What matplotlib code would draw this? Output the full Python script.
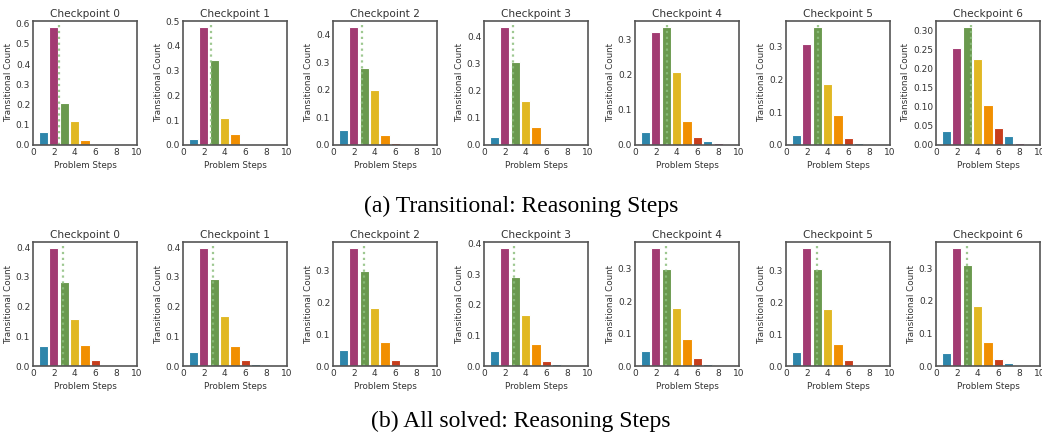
import matplotlib

matplotlib.use("Agg")
import matplotlib.pyplot as plt
import numpy as np
from matplotlib.ticker import MaxNLocator

# Cores das barras (ciclam a cada 6 passos)
CORES = ["#2E86AB", "#A23B72", "#6A994E", "#E1B823", "#F18F01", "#C73E1D"]
COR_MEDIA = "#8DBF7E"
COR_TEXTO = "#333333"
COR_BORDA = "#555555"

passos = [1, 2, 3, 4, 5, 6, 7, 8]
checkpoints = ["Checkpoint 0", "Checkpoint 1", "Checkpoint 2", "Checkpoint 3",
               "Checkpoint 4", "Checkpoint 5", "Checkpoint 6"]

# (a) Transitional
transicional = [
    [0.065, 0.584, 0.207, 0.118, 0.027, 0.0, 0.0, 0.0],
    [0.023, 0.477, 0.345, 0.111, 0.046, 0.0, 0.0, 0.0],
    [0.053, 0.428, 0.280, 0.201, 0.035, 0.009, 0.0, 0.0],
    [0.028, 0.437, 0.306, 0.162, 0.067, 0.0, 0.0, 0.005],
    [0.037, 0.320, 0.335, 0.206, 0.067, 0.022, 0.010, 0.006],
    [0.030, 0.309, 0.360, 0.186, 0.091, 0.022, 0.005, 0.0],
    [0.036, 0.254, 0.310, 0.225, 0.106, 0.045, 0.023, 0.004],
]

# (b) All solved
resolvidos = [
    [0.067, 0.397, 0.282, 0.158, 0.071, 0.020, 0.005, 0.002],
    [0.048, 0.397, 0.294, 0.169, 0.068, 0.020, 0.008, 0.003],
    [0.051, 0.372, 0.298, 0.183, 0.075, 0.018, 0.004, 0.003],
    [0.049, 0.387, 0.291, 0.168, 0.073, 0.018, 0.008, 0.001],
    [0.045, 0.364, 0.299, 0.179, 0.082, 0.026, 0.007, 0.003],
    [0.043, 0.372, 0.307, 0.178, 0.068, 0.020, 0.004, 0.001],
    [0.041, 0.363, 0.311, 0.183, 0.073, 0.022, 0.008, 0.003],
]

legendas = ["(a) Transitional: Reasoning Steps", "(b) All solved: Reasoning Steps"]

W, H = 1042, 436
ESQ = [33, 183, 333, 484, 635, 786, 936]
LARG = 104
TOPO = [21, 242]
ALT = 124
Y_LEGENDA = [206, 421]


def painel(ax, valores, titulo):
    cores = [CORES[i % len(CORES)] for i in range(len(passos))]
    ax.bar(passos, valores, 0.9, color=cores, edgecolor="white", linewidth=0.8)
    v = np.array(valores)
    media = float(np.sum(np.array(passos) * v) / np.sum(v))
    ax.axvline(media, color=COR_MEDIA, linestyle=":", linewidth=1.6, alpha=0.85)
    ax.set_xlim(0, 10)
    ax.set_ylim(0, max(valores) * 1.05)
    ax.set_xticks([0, 2, 4, 6, 8, 10])
    ax.yaxis.set_major_locator(MaxNLocator(nbins=7, steps=[1, 2, 5, 10]))
    ax.tick_params(length=0, labelsize=6.5, colors=COR_TEXTO, pad=2)
    ax.set_xlabel("Problem Steps", fontsize=6.3, color=COR_TEXTO, labelpad=3)
    ax.set_ylabel("Transitional Count", fontsize=6.3, color=COR_TEXTO, labelpad=2)
    ax.set_title(titulo, fontsize=7.6, color=COR_TEXTO, pad=3)
    for s in ax.spines.values():
        s.set_color(COR_BORDA)
        s.set_linewidth(1.2)


fig = plt.figure(figsize=(W / 100, H / 100), dpi=100)
for linha, dados in enumerate([transicional, resolvidos]):
    for j, valores in enumerate(dados):
        ax = fig.add_axes([ESQ[j] / W, 1 - (TOPO[linha] + ALT) / H, LARG / W, ALT / H])
        painel(ax, valores, checkpoints[j])
    fig.text(0.5, 1 - Y_LEGENDA[linha] / H, legendas[linha], ha="center", va="center",
             fontsize=17, family="Liberation Serif", color="black")

fig.savefig("out.png", dpi=100)
